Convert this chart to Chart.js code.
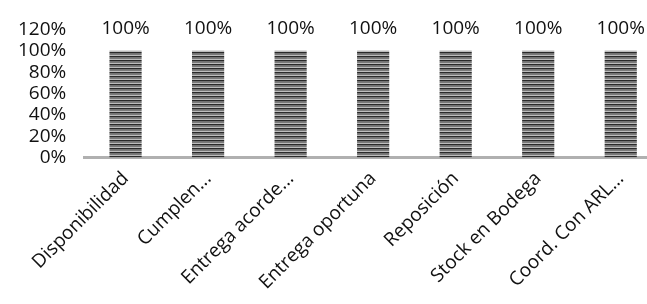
<!DOCTYPE html>
<html><head><meta charset="utf-8">
<script src="https://cdn.jsdelivr.net/npm/chart.js@4/dist/chart.umd.min.js"></script>
<style>html,body{margin:0;padding:0;background:#fff;overflow:hidden;width:647px;height:304px}#wrap{width:662px;height:304px}</style>
</head><body><div id="wrap"><canvas id="c" width="662" height="304"></canvas></div>
<script>
const categories = ["Disponibilidad","Cumplen...","Entrega acorde...","Entrega oportuna","Reposición","Stock en Bodega","Coord. Con ARL..."];
const values = [1,1,1,1,1,1,1];
const yTicks = [0,0.2,0.4,0.6,0.8,1.0,1.2];

function makePattern(){
  const p = document.createElement('canvas');
  p.width = 8; p.height = 4;
  const g = p.getContext('2d');
  g.fillStyle = '#bdbdbd'; g.fillRect(0,0,8,4);
  g.fillStyle = '#2a2a2a'; g.fillRect(0,0,8,1.5);
  g.fillStyle = '#7a7a7a'; g.fillRect(0,2,8,1);
  return g.createPattern(p,'repeat');
}

const labelPlugin = {
  id:'labels',
  afterDatasetsDraw(chart){
    const ctx = chart.ctx;
    const meta = chart.getDatasetMeta(0);
    ctx.save();
    ctx.font = '19px "Open Sans"';
    ctx.fillStyle = '#111';
    ctx.textAlign = 'center';
    ctx.textBaseline = 'middle';
    meta.data.forEach((bar,i)=>{
      ctx.fillText(Math.round(values[i]*100)+'%', bar.x, chart.scales.y.getPixelForValue(1.2)-1);
    });
    ctx.restore();
  }
};

new Chart(document.getElementById('c'),{
  type:'bar',
  data:{labels:categories,datasets:[{data:values,backgroundColor:makePattern(),borderWidth:0,barPercentage:0.78,categoryPercentage:0.5}]},
  options:{
    responsive:false,animation:false,
    layout:{padding:{top:0,left:0,right:0,bottom:0}},
    plugins:{legend:{display:false},tooltip:{enabled:false}},
    scales:{
      y:{min:0,max:1.2,
        afterBuildTicks(s){s.ticks = yTicks.map(v=>({value:v}));},
        ticks:{autoSkip:false,callback:v=>Math.round(v*100)+'%',color:'#111',font:{family:'Open Sans',size:19},padding:18},
        grid:{display:false,drawTicks:false},border:{display:false}},
      x:{grid:{display:false,drawTicks:false},border:{display:true,color:'#b0b0b0',width:3},
        ticks:{autoSkip:false,minRotation:45,maxRotation:45,color:'#111',font:{family:'Open Sans',size:19},padding:10}}
    }
  },
  plugins:[labelPlugin]
});
</script></body></html>
